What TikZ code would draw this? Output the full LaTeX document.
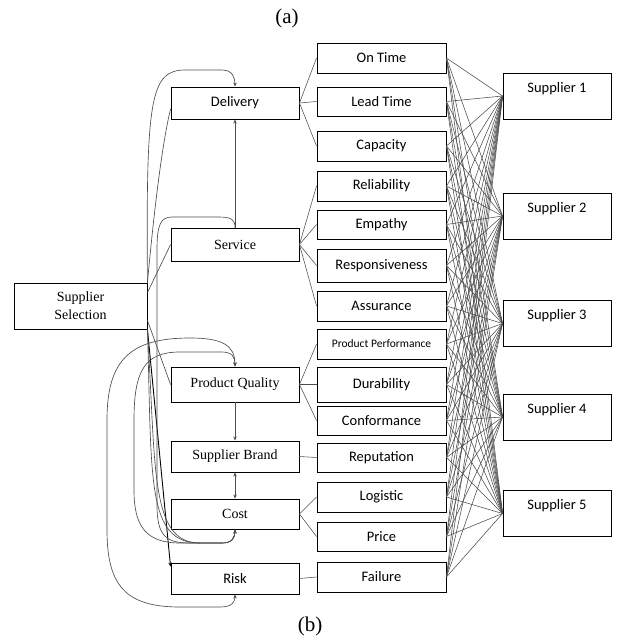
\documentclass[tikz,border=0pt]{standalone}
\usepackage{fontspec}
\setmainfont{Liberation Serif}
\newfontfamily\calibri{Carlito}
\usetikzlibrary{arrows.meta}

\begin{document}
\begin{tikzpicture}[x=1pt, y=-1pt, >={Stealth[length=4pt,width=3.5pt]},
    every node/.style={draw, rectangle, inner sep=0pt, line width=0.9pt, font=\fontsize{14}{16}\selectfont},
    crit/.style={minimum width=128pt, minimum height=#1}, crit/.default=32pt,
    sans/.style={font=\fontsize{14.5}{16}\selectfont\calibri},
    sub/.style={sans, minimum width=129pt, minimum height=#1}, sub/.default=30pt,
    supp/.style={sans, minimum width=108pt, text height=19pt, text depth=27pt},
    linkline/.style={draw=black!70, line width=0.55pt},
    loopline/.style={draw=black!70, line width=0.65pt}]
    \useasboundingbox (0,0) rectangle (619,641);

    % Goal and criteria
    \node[crit=46pt, minimum width=133pt, align=center, font=\fontsize{14}{18}\selectfont] (SS) at (80.5,306) {Supplier\\Selection};
    \node[crit, sans] (Del) at (235,103) {Delivery};
    \node[crit=33pt] (Ser) at (235,244.5) {Service};
    \node[crit=35pt] (PQ) at (235,384.5) {Product Quality};
    \node[crit=31pt] (SB) at (235,456.5) {Supplier Brand};
    \node[crit=30pt] (Cost) at (235,514) {Cost};
    \node[crit=31pt, sans] (Risk) at (235,578.5) {Risk};

    % Sub-criteria
    \node[sub] (OT) at (381.5,58) {On Time};
    \node[sub=29pt] (LT) at (381.5,101.5) {Lead Time};
    \node[sub] (Cap) at (381.5,146) {Capacity};
    \node[sub] (Rel) at (381.5,186) {Reliability};
    \node[sub=29pt] (Emp) at (381.5,224.5) {Empathy};
    \node[sub=33pt] (Res) at (381.5,265.5) {Responsiveness};
    \node[sub] (Ass) at (381.5,306) {Assurance};
    \node[sub, font=\fontsize{11.5}{13}\selectfont\calibri] (PP) at (381.5,344) {Product Performance};
    \node[sub=35pt] (Dur) at (381.5,384.5) {Durability};
    \node[sub=29pt] (Con) at (381.5,420.5) {Conformance};
    \node[sub=29pt] (Rep) at (381.5,457.5) {Reputation};
    \node[sub] (Log) at (381.5,497) {Logistic};
    \node[sub=29pt] (Pri) at (381.5,536.5) {Price};
    \node[sub] (Fai) at (381.5,577) {Failure};

    % Alternatives
    \node[supp] (S1) at (557,96) {Supplier 1};
    \node[supp] (S2) at (557,216) {Supplier 2};
    \node[supp] (S3) at (557,323.5) {Supplier 3};
    \node[supp] (S4) at (557,417) {Supplier 4};
    \node[supp] (S5) at (557,513.5) {Supplier 5};

    % Captions
    \node[draw=none, font=\fontsize{21}{24}\selectfont] (capA) at (287,18) {(a)};
    \node[draw=none, font=\fontsize{21}{24}\selectfont] (capB) at (310,626) {(b)};

    % Criteria to sub-criteria
    \foreach \s in {OT,LT,Cap} \draw[linkline] (Del.east) -- (\s.west);
    \foreach \s in {Rel,Emp,Res,Ass} \draw[linkline] (Ser.east) -- (\s.west);
    \foreach \s in {PP,Dur,Con} \draw[linkline] (PQ.east) -- (\s.west);
    \draw[linkline] (SB.east) -- (Rep.west);
    \foreach \s in {Log,Pri} \draw[linkline] (Cost.east) -- (\s.west);
    \draw[linkline] (Risk.east) -- (Fai.west);

    % Sub-criteria to every supplier
    \foreach \s in {OT,LT,Cap,Rel,Emp,Res,Ass,PP,Dur,Con,Rep,Log,Pri,Fai}
        \foreach \t in {S1,S2,S3,S4,S5}
            \draw[linkline] (\s.east) -- (\t.west);

    % Goal to criteria
    \draw[loopline, ->] (SS.north east) .. controls (146,100) and (150,70) .. (185,70) -- (222,70) .. controls (232,70) and (235,77) .. (Del.north);
    \draw[loopline] (SS.north east) .. controls (155,200) and (163,140) .. ([yshift=-6pt]Del.west);
    \draw[loopline] ([yshift=-10pt]SS.north east) -- (Ser.west);
    \draw[loopline] ([yshift=9pt]SS.south east) -- (PQ.west);
    \draw[->, line width=0.9pt] (SS.south east) -- ([yshift=-4pt]Risk.north west);
    \draw[loopline] (SS.south east) .. controls (156,470) and (150,543) .. (200,543) -- (222,543) .. controls (232,543) and (235,538) .. (Cost.south);
    \draw[loopline] (SS.south east) .. controls (152,480) and (146,543) .. (200,543);

    % Relations between criteria
    \draw[loopline, ->] (Ser.north) -- (Del.south);
    \draw[loopline, ->] (PQ.south) -- (SB.north);
    \draw[loopline, <->] (SB.south) -- (Cost.north);
    \draw[loopline, ->] (Ser.north) .. controls (235,219) and (231,217) .. (218,217) -- (172,217) .. controls (160,217) and (157,226) .. (157,250) -- (157,505) .. controls (157,536) and (166,543) .. (190,543) -- (222,543) .. controls (232,543) and (235,538) .. (Cost.south);
    \draw[loopline, <->] (Cost.south) .. controls (235,538) and (232,543) .. (222,543) -- (180,543) .. controls (145,543) and (134,525) .. (134,490) -- (134,420) .. controls (134,370) and (145,352) .. (180,352) -- (222,352) .. controls (232,352) and (235,357) .. (PQ.north);
    \draw[loopline, <->] (Risk.south) .. controls (235,602) and (232,607) .. (220,607) -- (180,607) .. controls (125,607) and (107,585) .. (107,530) -- (107,420) .. controls (107,360) and (130,338) .. (190,338) .. controls (222,338) and (235,345) .. (PQ.north);
\end{tikzpicture}
\end{document}
